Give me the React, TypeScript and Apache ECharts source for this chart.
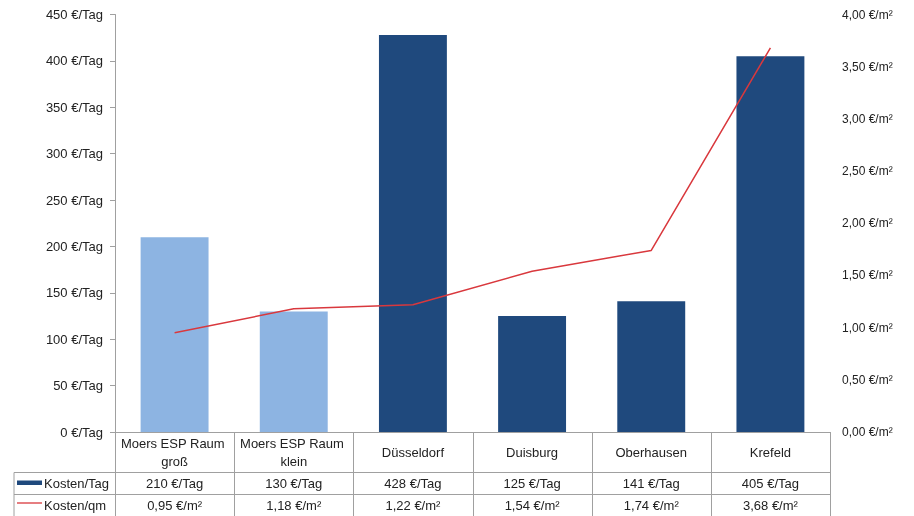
import React, { useEffect, useRef } from "react";
import * as echarts from "echarts";

const categories = [
  "Moers ESP Raum groß",
  "Moers ESP Raum klein",
  "Düsseldorf",
  "Duisburg",
  "Oberhausen",
  "Krefeld",
];
const kostenTag = [210, 130, 428, 125, 141, 405];
const kostenQm = [0.95, 1.18, 1.22, 1.54, 1.74, 3.68];
const seriesNames = ["Kosten/Tag", "Kosten/qm"];
const barColors = ["#8DB4E2", "#8DB4E2", "#1F497D", "#1F497D", "#1F497D", "#1F497D"];

const W = 914;
const H = 516;
const GRID_L = 115;
const GRID_R = 84;
const GRID_T = 14.5;
const GRID_B = 84;
const FONT = "Liberation Sans, Arial, sans-serif";
const TXT = "#222";
const LINE_C = "#A0A0A0";
const RED = "#D9383D";

const de2 = (v: number) => v.toFixed(2).replace(".", ",");

export default function App() {
  const ref = useRef<HTMLDivElement>(null);
  useEffect(() => {
    if (!ref.current) return;
    const chart = echarts.init(ref.current, undefined, { renderer: "svg", width: W, height: H });
    const axisY = H - GRID_B; // 432
    const right = W - GRID_R; // 830
    const colW = (right - GRID_L) / categories.length;
    const row1 = axisY + 40.5;
    const row2 = row1 + 22;
    const graphics: any[] = [];
    const ls = { stroke: LINE_C, lineWidth: 1 };
    graphics.push({ type: "line", shape: { x1: 14, y1: row1, x2: right, y2: row1 }, style: ls, silent: true });
    graphics.push({ type: "line", shape: { x1: 14, y1: row2, x2: right, y2: row2 }, style: ls, silent: true });
    graphics.push({ type: "line", shape: { x1: 14, y1: row1, x2: 14, y2: H }, style: ls, silent: true });
    for (let i = 0; i <= categories.length; i++) {
      const x = Math.round(GRID_L + i * colW) + 0.5;
      graphics.push({ type: "line", shape: { x1: x, y1: axisY, x2: x, y2: H }, style: ls, silent: true });
    }
    // legend keys in the data table
    graphics.push({ type: "rect", shape: { x: 17, y: row1 + 8, width: 25, height: 4.5 }, style: { fill: "#1F497D" }, silent: true });
    graphics.push({ type: "line", shape: { x1: 17, y1: row2 + 8.5, x2: 42, y2: row2 + 8.5 }, style: { stroke: RED, lineWidth: 1.3 }, silent: true });
    graphics.push({
      type: "text", x: 44, y: row1 + 11,
      style: { text: seriesNames[0], font: `13px ${FONT}`, fill: TXT, verticalAlign: "middle", align: "left" }, silent: true,
    });
    graphics.push({
      type: "text", x: 44, y: row2 + 11,
      style: { text: seriesNames[1], font: `13px ${FONT}`, fill: TXT, verticalAlign: "middle", align: "left" }, silent: true,
    });

    chart.setOption({
      animation: false,
      textStyle: { fontFamily: FONT },
      grid: { left: GRID_L, right: GRID_R, top: GRID_T, bottom: GRID_B, containLabel: false },
      xAxis: [
        {
          type: "category",
          data: categories,
          axisLine: { show: true, lineStyle: { color: LINE_C } },
          axisTick: { show: false },
          axisLabel: {
            interval: 0,
            fontSize: 13,
            color: TXT,
            fontFamily: FONT,
            width: 112,
            overflow: "break",
            lineHeight: 18,
            verticalAlign: "middle",
            margin: 20,
          },
        },
        {
          type: "category",
          data: categories,
          position: "bottom",
          offset: 40,
          axisLine: { show: false },
          axisTick: { show: false },
          axisLabel: {
            interval: 0,
            fontSize: 13,
            color: TXT,
            fontFamily: FONT,
            verticalAlign: "middle",
            margin: 11,
            formatter: (_v: string, i: number) => `${kostenTag[i]} €/Tag`,
          },
        },
        {
          type: "category",
          data: categories,
          position: "bottom",
          offset: 62,
          axisLine: { show: false },
          axisTick: { show: false },
          axisLabel: {
            interval: 0,
            fontSize: 13,
            color: TXT,
            fontFamily: FONT,
            verticalAlign: "middle",
            margin: 11,
            formatter: (_v: string, i: number) => `${de2(kostenQm[i])} €/m²`,
          },
        },
      ],
      yAxis: [
        {
          type: "value",
          min: 0,
          max: 450,
          interval: 50,
          axisLine: { show: true, lineStyle: { color: LINE_C } },
          axisTick: { show: true, length: 5, lineStyle: { color: LINE_C } },
          splitLine: { show: false },
          axisLabel: { fontSize: 13, color: TXT, fontFamily: FONT, margin: 12, formatter: (v: number) => `${v} €/Tag` },
        },
        {
          type: "value",
          min: 0,
          max: 4,
          interval: 0.5,
          position: "right",
          axisLine: { show: false },
          axisTick: { show: false },
          splitLine: { show: false },
          axisLabel: { fontSize: 12, color: TXT, fontFamily: FONT, margin: 12, formatter: (v: number) => `${de2(v)} €/m²` },
        },
      ],
      series: [
        {
          name: seriesNames[0],
          type: "bar",
          xAxisIndex: 0,
          yAxisIndex: 0,
          barWidth: "57%",
          data: kostenTag.map((v, i) => ({ value: v, itemStyle: { color: barColors[i] } })),
        },
        {
          name: seriesNames[1],
          type: "line",
          xAxisIndex: 0,
          yAxisIndex: 1,
          symbol: "none",
          lineStyle: { color: RED, width: 1.5 },
          data: kostenQm,
        },
      ],
      graphic: graphics,
    });
    return () => chart.dispose();
  }, []);
  return <div ref={ref} style={{ position: "fixed", left: 0, top: 0, width: W, height: H }} />;
}
